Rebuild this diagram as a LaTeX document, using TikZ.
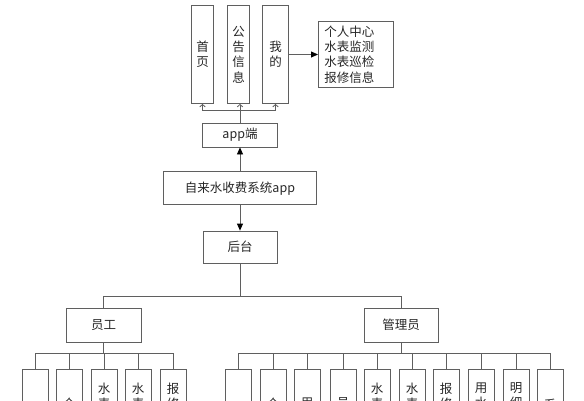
\documentclass[tikz,border=0pt]{standalone}
\usepackage{fontspec}
\newfontfamily\cjk{Noto Sans CJK SC}
\usepackage{xcolor}
\definecolor{boxgray}{RGB}{95,95,95}
\usepackage{tikz}
\usetikzlibrary{arrows.meta}

\begin{document}
\begin{tikzpicture}[x=1pt, y=-1pt, >={Triangle[length=7pt,width=6pt,color=black]}, every node/.style={font={\cjk\fontsize{12.5}{15.3}\selectfont}, text=black!85}, box/.style={draw=boxgray, line width=0.8pt, inner sep=0pt}, tab/.style={box, minimum height=98pt, align=center}, leaf/.style={box, minimum width=26pt, minimum height=80pt, anchor=north}, leaftext/.style={anchor=north, align=center, inner sep=0pt}, link/.style={draw=boxgray, line width=0.8pt}]

\useasboundingbox (0,0) rectangle (584,400);
\clip (0,0) rectangle (584,400);

\node[tab, minimum width=21.6pt] (shouye) at (202.5,54.5) {首\\页};
\node[tab, minimum width=21.6pt] (gonggao) at (238.5,54.5) {公\\告\\信\\息};
\node[tab, minimum width=25.6pt] (wode) at (275.5,54.5) {我\\的};
\node[box, anchor=west, minimum height=66.7pt, text width=63pt, inner xsep=6pt, align=left] (wodelist) at (318,54.5) {个人中心\\水表监测\\水表巡检\\报修信息};

\node[box, minimum width=75pt, minimum height=24pt] (app) at (240,135) {app端};
\node[box, minimum width=153pt, minimum height=33pt] (sys) at (240,188.3) {自来水收费系统app};
\node[box, minimum width=74pt, minimum height=32pt] (houtai) at (240,247) {后台};
\node[box, minimum width=75pt, minimum height=34pt] (yuangong) at (103.5,325) {员工};
\node[box, minimum width=74pt, minimum height=34pt] (guanli) at (401,325) {管理员};

\coordinate (hub) at (240,110);
\coordinate (split) at (240,296);

\draw[link] (app) -- (hub);
\draw[link, -{Straight Barb[length=2.5pt,width=5.5pt]}] (hub) -| (shouye.south);
\draw[link, -{Straight Barb[length=2.5pt,width=5.5pt]}] (hub) -- (hub |- gonggao.south);
\draw[link, -{Straight Barb[length=2.5pt,width=5.5pt]}] (hub) -| (wode.south);
\draw[link, ->] (wode) -- (wodelist);
\draw[link, ->] (sys) -- (app);
\draw[link, ->] (sys) -- (houtai);
\draw[link] (houtai) -- (split);
\draw[link] (yuangong) |- (split);
\draw[link] (guanli) |- (split);

\foreach \x/\lbl/\ty [count=\i] in {35//390, 69/个/397.5, 104/{水\\表}/382.5, 138/{水\\表}/382.5, 173/{报\\修}/382.5}{
  \node[leaf] (yg\i) at (\x,369) {};
  \draw[link] (yg\i.north) -- ++(0,-16) -| (yuangong.south);
  \node[leaftext] (ygtext\i) at (\x,\ty) {\lbl};
}
\foreach \x/\lbl/\ty [count=\i] in {238//390, 273/个/397.5, 307/用/397.5, 343/员/397.5, 377/{水\\表}/382.5, 412/{水\\表}/382.5, 446/{报\\修}/382.5, 481/{用\\水}/382.5, 516/{明\\细}/382.5, 550/系/399}{
  \node[leaf] (gl\i) at (\x,369) {};
  \draw[link] (gl\i.north) -- ++(0,-16) -| (guanli.south);
  \node[leaftext] (gltext\i) at (\x,\ty) {\lbl};
}
\end{tikzpicture}
\end{document}
